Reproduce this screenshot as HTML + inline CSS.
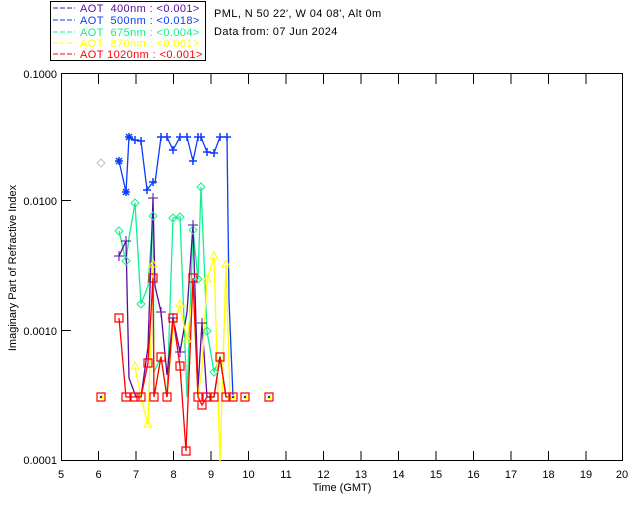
<!DOCTYPE html>
<html><head><style>
body{margin:0;background:#fff;}
svg{display:block;font-family:"Liberation Sans",sans-serif;}
</style></head><body>
<svg width="640" height="512" viewBox="0 0 640 512" xmlns="http://www.w3.org/2000/svg">
<rect width="640" height="512" fill="#fff"/>
<!-- legend -->
<rect x="50.5" y="1.5" width="155" height="59" fill="none" stroke="#000"/>
<g font-size="11" letter-spacing="0.4">
<line x1="53" y1="8" x2="75" y2="8" stroke="#5a0aa0" stroke-dasharray="5,2"/>
<text x="80" y="12" fill="#5a0aa0" xml:space="preserve">AOT  400nm : &lt;0.001&gt;</text>
<line x1="53" y1="20" x2="75" y2="20" stroke="#0a3cff" stroke-dasharray="5,2"/>
<text x="80" y="24" fill="#0a3cff" xml:space="preserve">AOT  500nm : &lt;0.018&gt;</text>
<line x1="53" y1="32" x2="75" y2="32" stroke="#10f090" stroke-dasharray="5,2"/>
<text x="80" y="36" fill="#10f090" xml:space="preserve">AOT  675nm : &lt;0.004&gt;</text>
<line x1="53" y1="43" x2="75" y2="43" stroke="#ffff00" stroke-dasharray="5,2"/>
<text x="80" y="47" fill="#ffff00" xml:space="preserve">AOT  870nm : &lt;0.001&gt;</text>
<line x1="53" y1="54" x2="75" y2="54" stroke="#ff0000" stroke-dasharray="5,2"/>
<text x="80" y="58" fill="#ff0000" xml:space="preserve">AOT 1020nm : &lt;0.001&gt;</text>
<text x="214" y="17" fill="#000">PML, N 50 22', W 04 08', Alt 0m</text>
<text x="214" y="35" fill="#000">Data from: 07 Jun 2024</text>
</g>
<!-- axes -->
<rect x="61.5" y="73.5" width="561" height="387" fill="none" stroke="#000"/>
<g stroke="#000">
<line x1="98.5" y1="74" x2="98.5" y2="84"/><line x1="98.5" y1="461" x2="98.5" y2="451"/>
<line x1="136" y1="74" x2="136" y2="84"/><line x1="136" y1="461" x2="136" y2="451"/>
<line x1="173.5" y1="74" x2="173.5" y2="84"/><line x1="173.5" y1="461" x2="173.5" y2="451"/>
<line x1="211" y1="74" x2="211" y2="84"/><line x1="211" y1="461" x2="211" y2="451"/>
<line x1="248.5" y1="74" x2="248.5" y2="84"/><line x1="248.5" y1="461" x2="248.5" y2="451"/>
<line x1="286" y1="74" x2="286" y2="84"/><line x1="286" y1="461" x2="286" y2="451"/>
<line x1="323.5" y1="74" x2="323.5" y2="84"/><line x1="323.5" y1="461" x2="323.5" y2="451"/>
<line x1="361" y1="74" x2="361" y2="84"/><line x1="361" y1="461" x2="361" y2="451"/>
<line x1="398.5" y1="74" x2="398.5" y2="84"/><line x1="398.5" y1="461" x2="398.5" y2="451"/>
<line x1="436" y1="74" x2="436" y2="84"/><line x1="436" y1="461" x2="436" y2="451"/>
<line x1="473.5" y1="74" x2="473.5" y2="84"/><line x1="473.5" y1="461" x2="473.5" y2="451"/>
<line x1="511" y1="74" x2="511" y2="84"/><line x1="511" y1="461" x2="511" y2="451"/>
<line x1="548.5" y1="74" x2="548.5" y2="84"/><line x1="548.5" y1="461" x2="548.5" y2="451"/>
<line x1="586" y1="74" x2="586" y2="84"/><line x1="586" y1="461" x2="586" y2="451"/>
<line x1="61" y1="200.5" x2="71" y2="200.5"/>
<line x1="61" y1="330.5" x2="71" y2="330.5"/>
</g>
<g font-size="11" fill="#000" text-anchor="end">
<text x="57" y="78">0.1000</text><text x="57" y="205">0.0100</text>
<text x="57" y="335">0.0010</text><text x="57" y="464">0.0001</text>
</g>
<g font-size="11" fill="#000" text-anchor="middle">
<text x="61" y="478">5</text><text x="98.5" y="478">6</text><text x="136" y="478">7</text><text x="173.5" y="478">8</text>
<text x="211" y="478">9</text><text x="248.5" y="478">10</text><text x="286" y="478">11</text><text x="323.5" y="478">12</text>
<text x="361" y="478">13</text><text x="398.5" y="478">14</text><text x="436" y="478">15</text><text x="473.5" y="478">16</text>
<text x="511" y="478">17</text><text x="548.5" y="478">18</text><text x="586" y="478">19</text><text x="622" y="478">20</text>
<text x="342" y="491">Time (GMT)</text>
<text transform="translate(16,268) rotate(-90)">Imaginary Part of Refractive Index</text>
</g>
<!-- series -->
<g fill="none" stroke-width="1.3">
<polyline stroke="#0a3cff" points="119,161 126,192 129,137 135,140 141,141 147,190 153,182 155,183 161,137 167,137 173,150 180,137 187,137 193,161 198,137 201,137 207,152 214,153 220,137 227,137 229,300 233,397"/>
<polyline stroke="#10f090" points="119,231 126,261 129,238 135,203 141,304 148,286 153,216 154,372 161,357 167,397 173,218 180,217 187,397 193,230 198,279 201,187 207,331 214,372 220,357 226,397"/>
<polyline stroke="#5a0aa0" points="119,256 126,241 129,378 136,397 141,397 148,347 153,198 155,286 161,312 167,375 173,318 180,352 187,312 193,225 198,388 202,323 207,397 214,397 220,357 226,397"/>
<polyline stroke="#ffff00" points="135,367 141,397 148,425 153,265 154,397 161,357 167,397 173,330 180,305 187,340 193,290 198,397 202,368 207,280 214,257 220,462 226,265 230,397"/>
<polyline stroke="#ff0000" points="119,318 126,397 129,397 135,397 141,397 148,363 153,278 154,397 161,357 167,397 173,318 180,366 186,451 193,278 198,397 202,405 207,397 214,397 220,357 226,397 233,397"/>
</g>
<g fill="none" stroke-width="1">
<g stroke="#0a3cff" stroke-width="1.5">
<path d="M115,161h8M119,157v8M116,158l6,6M122,158l-6,6M122,192h8M126,188v8M123,189l6,6M129,189l-6,6M125,137h8M129,133v8M126,134l6,6M132,134l-6,6M131,140h8M135,136v8M137,141h8M141,137v8M143,190h8M147,186v8M149,182h8M153,178v8M157,137h8M161,133v8M163,137h8M167,133v8M169,150h8M173,146v8M176,137h8M180,133v8M183,137h8M187,133v8M189,161h8M193,157v8M194,137h8M198,133v8M197,137h8M201,133v8M203,152h8M207,148v8M210,153h8M214,149v8M216,137h8M220,133v8M223,137h8M227,133v8"/>
</g>
<g stroke="#10f090">
<path d="M119,227l4,4l-4,4l-4,-4zM126,257l4,4l-4,4l-4,-4zM135,199l4,4l-4,4l-4,-4zM141,300l4,4l-4,4l-4,-4zM153,212l4,4l-4,4l-4,-4zM173,214l4,4l-4,4l-4,-4zM180,213l4,4l-4,4l-4,-4zM193,226l4,4l-4,4l-4,-4zM198,275l4,4l-4,4l-4,-4zM201,183l4,4l-4,4l-4,-4zM207,327l4,4l-4,4l-4,-4zM214,368l4,4l-4,4l-4,-4z"/>
</g>
<path stroke="#c0c0c0" d="M101,159l4,4l-4,4l-4,-4z"/>
<g stroke="#5a0aa0">
<path d="M114,256h10M119,251v10M121,241h10M126,236v10M148,198h10M153,193v10M188,225h10M193,220v10M156,312h10M161,307v10M168,318h10M173,313v10M175,352h10M180,347v10M197,323h10M202,318v10"/>
</g>
<g stroke="#ffff00">
<path d="M135,362l4,7h-8zM148,420l4,7h-8zM153,260l4,7h-8zM180,300l4,7h-8zM187,335l4,7h-8zM207,275l4,7h-8zM214,252l4,7h-8zM226,260l4,7h-8z"/>
</g>
<g fill="#ffff00" stroke="none">
<rect x="99" y="395" width="4" height="4"/><rect x="243" y="395" width="4" height="4"/><rect x="267" y="395" width="4" height="4"/><rect x="228" y="395" width="4" height="4"/><rect x="231" y="395" width="4" height="4"/>
</g>
<g fill="#0a3cff" stroke="none">
<rect x="100" y="396" width="2" height="2"/><rect x="244" y="396" width="2" height="2"/><rect x="268" y="396" width="2" height="2"/><rect x="232" y="396" width="2" height="2"/>
</g>
<g stroke="#ff0000" stroke-width="1.2">
<path d="M97,393h8v8h-8zM115,314h8v8h-8zM122,393h8v8h-8zM131,393h8v8h-8zM137,393h8v8h-8zM144,359h8v8h-8zM149,274h8v8h-8zM150,393h8v8h-8zM157,353h8v8h-8zM163,393h8v8h-8zM169,314h8v8h-8zM176,362h8v8h-8zM182,447h8v8h-8zM189,274h8v8h-8zM194,393h8v8h-8zM198,401h8v8h-8zM203,393h8v8h-8zM210,393h8v8h-8zM216,353h8v8h-8zM222,393h8v8h-8zM229,393h8v8h-8zM241,393h8v8h-8zM265,393h8v8h-8z"/>
</g>
</g>
</svg>
</body></html>
